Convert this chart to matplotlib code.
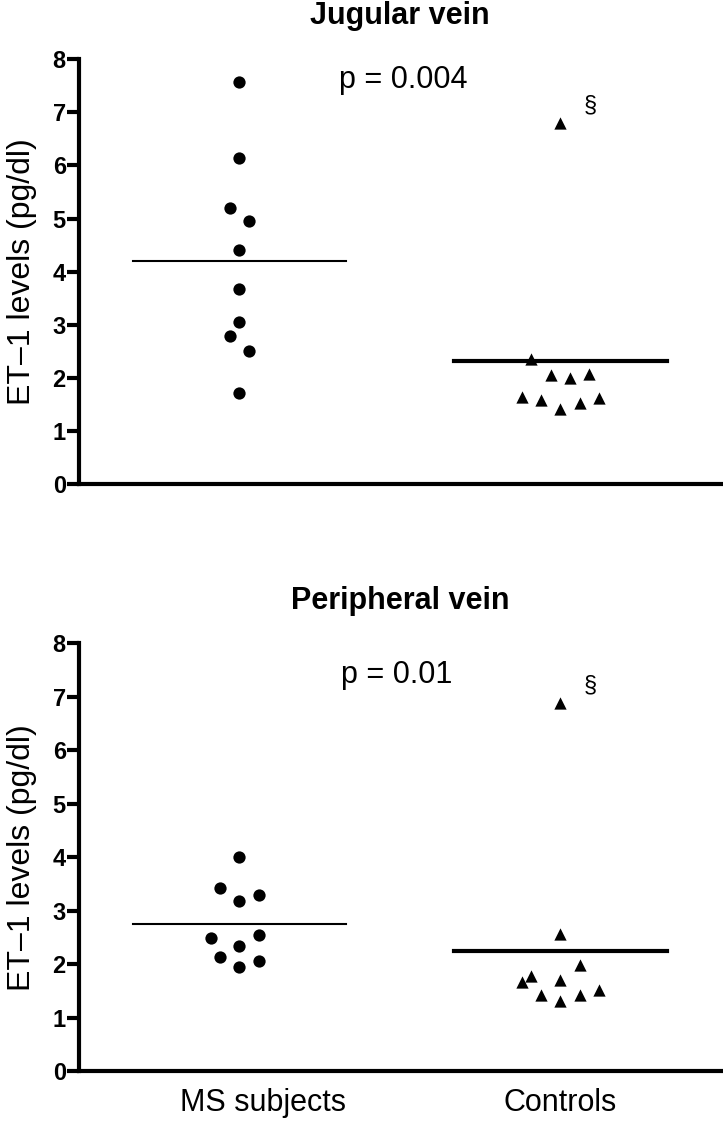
import numpy as np
import matplotlib
matplotlib.use('Agg')
import matplotlib.pyplot as plt
import matplotlib.transforms as mtransforms

plt.rcParams['font.family'] = ['Liberation Sans', 'DejaVu Sans']

groups = ['MS subjects', 'Controls']

# jugular vein
jug_ms = [7.56, 6.13, 5.19, 4.95, 4.40, 3.67, 3.06, 2.79, 2.51, 1.72]
jug_ms_off = [0, 0, -1, 1, 0, 0, 0, -1, 1, 0]
jug_ctrl = [6.80, 2.36, 2.05, 2.00, 2.07, 1.65, 1.59, 1.41, 1.53, 1.62]
jug_ctrl_off = [0, -1.5, -0.5, 0.5, 1.5, -2, -1, 0, 1, 2]
jug_means = [4.21, 2.32]
jug_p = 'p = 0.004'

# peripheral vein
per_ms = [4.00, 3.43, 3.29, 3.18, 2.48, 2.54, 2.33, 2.13, 2.06, 1.95]
per_ms_off = [0, -1, 1, 0, -1.5, 1, 0, -1, 1, 0]
per_ctrl = [6.89, 2.57, 1.99, 1.78, 1.67, 1.70, 1.42, 1.31, 1.42, 1.51]
per_ctrl_off = [0, 0, 1, -1.5, -2, 0, -1, 0, 1, 2]
per_means = [2.74, 2.24]
per_p = 'p = 0.01'

yticks = [0, 1, 2, 3, 4, 5, 6, 7, 8]

fig = plt.figure(figsize=(7.23, 11.29), dpi=100)
ax1 = fig.add_axes([0.1093, 0.571, 0.8877, 0.3767])
ax2 = fig.add_axes([0.1093, 0.0514, 0.8877, 0.3788])


def panel(ax, title, ms, ms_off, ms_step, ctrl, ctrl_off, means, ptxt, ploc, bottom):
    ax.scatter(0 + np.array(ms_off) * ms_step, ms, marker='o', s=78, color='black', zorder=3, linewidths=0)
    ax.scatter(1 + np.array(ctrl_off) * 0.06, ctrl, marker='^', s=78, color='black', zorder=3, linewidths=0)
    ax.plot([-0.333, 0.333], [means[0], means[0]], color='black', lw=1.5, zorder=2)
    ax.plot([0.667, 1.333], [means[1], means[1]], color='black', lw=3, zorder=2)
    ax.text(ploc[0], ploc[1], ptxt, fontsize=22, ha='center', va='center')
    ax.text(1.093, ctrl[0] + 0.33, '\u00a7', fontsize=17, ha='center', va='center')

    ax.set_xlim(-0.5, 1.5)
    ax.set_ylim(0, 8)
    ax.set_yticks(yticks)
    ax.set_yticklabels([str(t) for t in yticks], fontsize=17, fontweight='bold')
    ax.spines['top'].set_visible(False)
    ax.spines['right'].set_visible(False)
    ax.spines['left'].set_linewidth(3)
    ax.spines['bottom'].set_linewidth(3)
    ax.tick_params(axis='y', length=9, width=3, pad=0.5)
    ax.set_ylabel('ET\u20131 levels (pg/dl)', fontsize=23, labelpad=11)
    ax.set_title(title, fontsize=22, fontweight='bold', pad=25)
    if bottom:
        ax.set_xticks([0, 1])
        ax.set_xticklabels(groups, fontsize=22)
        ax.tick_params(axis='x', length=0, pad=12)
        lab = ax.get_xticklabels()[0]
        lab.set_transform(lab.get_transform() + mtransforms.ScaledTranslation(0.24, 0, fig.dpi_scale_trans))
    else:
        ax.set_xticks([])


panel(ax1, 'Jugular vein', jug_ms, jug_ms_off, 0.031, jug_ctrl, jug_ctrl_off, jug_means, jug_p, (0.51, 7.6), False)
panel(ax2, 'Peripheral vein', per_ms, per_ms_off, 0.06, per_ctrl, per_ctrl_off, per_means, per_p, (0.49, 7.4), True)

fig.savefig('out.png', dpi=100)
